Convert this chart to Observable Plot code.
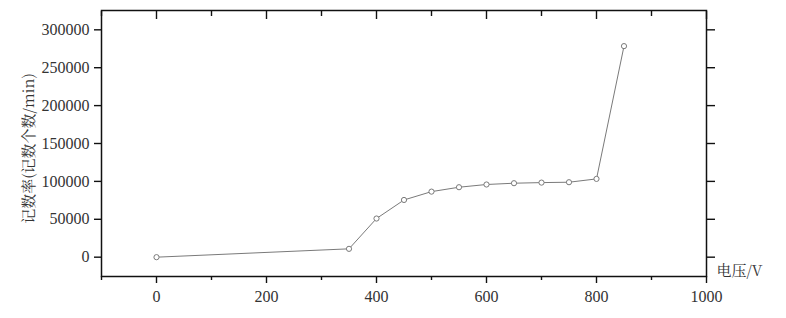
<!DOCTYPE html>
<html><head><meta charset="utf-8">
<script src="https://cdn.jsdelivr.net/npm/d3@7"></script>
<script src="https://cdn.jsdelivr.net/npm/@observablehq/plot@0.6"></script>
<style>
body{margin:0;background:#fff;}
</style>
</head><body><div id="chart"></div>
<script>
const voltage = [0, 350, 400, 450, 500, 550, 600, 650, 700, 750, 800, 850];
const countRate = [0, 11000, 51000, 75500, 86500, 92300, 95900, 97600, 98400, 98900, 103300, 278500];
const xMajorTicks = [0, 200, 400, 600, 800, 1000];
const xMinorTicks = [-100, 100, 300, 500, 700, 900];
const yTicks = [0, 50000, 100000, 150000, 200000, 250000, 300000];
const yLabel = "记数率(记数个数/min)";
const xLabel = "电压/V";

const data = voltage.map((v, i) => ({v, c: countRate[i]}));
const cjk = "Noto Serif CJK SC";
const serif = "Liberation Serif";
const grey = "#7a7a7a";

const chart = Plot.plot({
  width: 786,
  height: 318,
  marginLeft: 101,
  marginRight: 80,
  marginTop: 10,
  marginBottom: 42,
  style: {fontSize: "16px", color: "#333"},
  x: {domain: [-100, 1000]},
  y: {domain: [-25500, 325500]},
  marks: [
    Plot.axisX(xMajorTicks, {anchor: "bottom", tickSize: 7, tickPadding: 7, label: null, stroke: "#111", strokeWidth: 1.4, fill: "#333", fontSize: 16, tickFormat: d => String(d)}),
    Plot.axisX(xMinorTicks, {anchor: "bottom", tickSize: 4, label: null, stroke: "#111", strokeWidth: 1.4, tickFormat: () => ""}),
    Plot.axisX(xMajorTicks, {anchor: "top", tickSize: -8, label: null, stroke: "#111", strokeWidth: 1.4, tickFormat: () => ""}),
    Plot.axisX(xMinorTicks, {anchor: "top", tickSize: -5, label: null, stroke: "#111", strokeWidth: 1.4, tickFormat: () => ""}),
    Plot.axisY(yTicks, {anchor: "left", tickSize: 7, tickPadding: 5, label: null, stroke: "#111", strokeWidth: 1.4, fill: "#333", fontSize: 16, tickFormat: d => String(d)}),
    Plot.axisY(yTicks, {anchor: "right", tickSize: 8, label: null, stroke: "#111", strokeWidth: 1.4, tickFormat: () => ""}),
    Plot.frame({stroke: "#111", strokeWidth: 1.5}),
    Plot.line(data, {x: "v", y: "c", stroke: grey, strokeWidth: 1}),
    Plot.dot(data, {x: "v", y: "c", r: 2.6, stroke: grey, fill: "white", strokeWidth: 1}),
    Plot.text([yLabel], {text: d => d, frameAnchor: "left", textAnchor: "middle", dx: -72, dy: 5, rotate: -90, fontSize: 15, fill: "#333", className: "cjk"}),
    Plot.text([xLabel], {text: d => d, frameAnchor: "bottom-right", dx: 10, dy: -1, textAnchor: "start", fontSize: 15, fill: "#333", className: "cjk"})
  ]
});
document.getElementById("chart").appendChild(chart);
d3.select(chart).selectAll("text").each(function() {
  const t = this.textContent;
  const isCjk = /[\u4e00-\u9fff]/.test(t);
  this.style.setProperty("font-family", isCjk ? `"${cjk}", serif` : `"${serif}", serif`, "important");
});
</script>
</body></html>
